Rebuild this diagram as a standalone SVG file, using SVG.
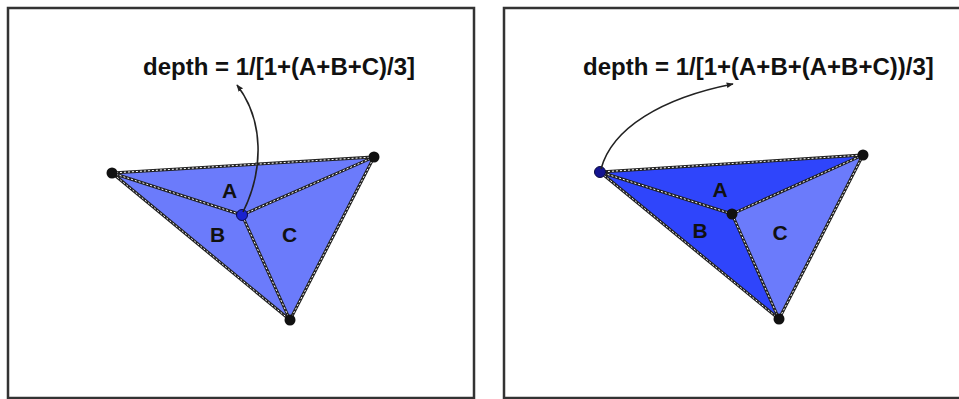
<svg xmlns="http://www.w3.org/2000/svg" width="959" height="399" viewBox="0 0 959 399">
<style>
.frame{fill:#fff;stroke:#333;stroke-width:2.5}
.light{fill:#6b7bfb}
.dark{fill:#2f45fb}
.edge{fill:none;stroke:#222;stroke-width:3;stroke-linecap:round}
.dash{fill:none;stroke:#fff;stroke-width:1;stroke-dasharray:2 2}
.vtx{fill:#111}
.lbl{font-family:"Liberation Sans",Arial,sans-serif;font-weight:bold;font-size:21px;fill:#111;text-anchor:middle}
.eq{font-family:"Liberation Sans",Arial,sans-serif;font-weight:bold;font-size:24px;fill:#111}
.arr{fill:none;stroke:#222;stroke-width:1.6}
</style>
<defs>
<marker id="ah" viewBox="0 0 10 10" refX="9" refY="5" markerWidth="7" markerHeight="7" orient="auto" markerUnits="userSpaceOnUse">
<path d="M0,1 L10,5 L0,9 z" fill="#222"/>
</marker>
</defs>
<g id="panel-left">
<rect class="frame" x="8" y="8" width="466" height="390"/>
<g id="tri-left">
<polygon class="light" points="112,173 374,157 290,320"/>
<path class="edge" d="M112,173 L374,157 L290,320 Z M112,173 L242,215 M374,157 L242,215 M290,320 L242,215"/>
<path class="dash" d="M112,173 L374,157 L290,320 Z M112,173 L242,215 M374,157 L242,215 M290,320 L242,215"/>
</g>
<g id="labels-left">
<text class="lbl" x="229.5" y="198">A</text>
<text class="lbl" x="217.5" y="242">B</text>
<text class="lbl" x="289.5" y="242">C</text>
</g>
<g id="verts-left">
<circle class="vtx" cx="112" cy="173" r="5.5"/>
<circle class="vtx" cx="374" cy="157" r="5.5"/>
<circle class="vtx" cx="290" cy="320" r="5.5"/>
<circle cx="242" cy="215" r="5.5" fill="#1a22d0" stroke="#0a0a50" stroke-width="1"/>
</g>
<text id="eq-left" class="eq" x="143" y="75">depth = 1/[1+(A+B+C)/3]</text>
</g>
<g id="panel-right">
<rect class="frame" x="504" y="8" width="470" height="390"/>
<g id="tri-right">
<polygon class="dark" points="600,172 863,155 732,214"/>
<polygon class="dark" points="600,172 732,214 779,319"/>
<polygon class="light" points="732,214 863,155 779,319"/>
<path class="edge" d="M600,172 L863,155 L779,319 Z M600,172 L732,214 M863,155 L732,214 M779,319 L732,214"/>
<path class="dash" d="M600,172 L863,155 L779,319 Z M600,172 L732,214 M863,155 L732,214 M779,319 L732,214"/>
</g>
<g id="labels-right">
<text class="lbl" x="720" y="197">A</text>
<text class="lbl" x="700" y="238">B</text>
<text class="lbl" x="780" y="240">C</text>
</g>
<g id="verts-right">
<circle cx="600" cy="172" r="5.5" fill="#141490" stroke="#0a0a40" stroke-width="1"/>
<circle class="vtx" cx="863" cy="155" r="5.5"/>
<circle class="vtx" cx="779" cy="319" r="5.5"/>
<circle class="vtx" cx="732" cy="214" r="5.5"/>
</g>
<text id="eq-right" class="eq" x="583" y="75">depth = 1/[1+(A+B+(A+B+C))/3]</text>
</g>
<g id="connectors">
<path class="arr" d="M243,212 C264,170 264,120 237,85" marker-end="url(#ah)"/>
<path class="arr" d="M601,169 C612,128 662,98 733,84" marker-end="url(#ah)"/>
</g>
</svg>
